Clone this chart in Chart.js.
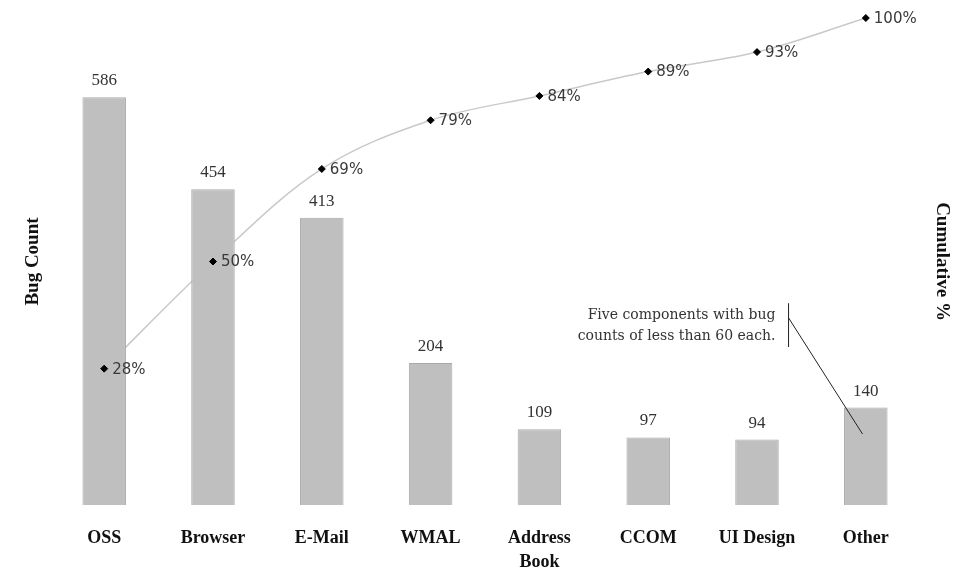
<!DOCTYPE html>
<html>
<head>
<meta charset="utf-8">
<script src="https://cdn.jsdelivr.net/npm/chart.js@4/dist/chart.umd.min.js"></script>
<style>
  html, body { margin: 0; padding: 0; background: #fff; }
  #wrap { width: 973px; height: 572px; position: relative; }
</style>
</head>
<body>
<div id="wrap"><canvas id="pareto"></canvas></div>
<script>
const components = [['OSS'], ['Browser'], ['E-Mail'], ['WMAL'], ['Address', 'Book'], ['CCOM'], ['UI Design'], ['Other']];
const bugCounts = [586, 454, 413, 204, 109, 97, 94, 140];
const cumulativePct = [28, 50, 69, 79, 84, 89, 93, 100];
const noteLines = ['Five components with bug', 'counts of less than 60 each.'];

// where the callout sits, in scale units (category index / bug count)
const note = { textX: 6.17, barX: 6.29, barTop: 290, barBottom: 227, fromY: 269, toX: 6.97, toY: 102 };

const labelPlugin = {
  id: 'labels',
  afterDatasetsDraw(chart) {
    const ctx = chart.ctx;
    const x = chart.scales.x, y = chart.scales.y;
    ctx.save();

    // bar values
    ctx.font = '17px "Liberation Serif", serif';
    ctx.fillStyle = '#333';
    ctx.textAlign = 'center';
    ctx.textBaseline = 'bottom';
    chart.getDatasetMeta(1).data.forEach((bar, i) => {
      ctx.fillText(bugCounts[i], bar.x, bar.y - 8);
    });

    // cumulative percentages
    ctx.font = '15px "DejaVu Sans", sans-serif';
    ctx.fillStyle = '#3a3a3a';
    ctx.textAlign = 'left';
    ctx.textBaseline = 'middle';
    chart.getDatasetMeta(2).data.forEach((pt, i) => {
      ctx.fillText(cumulativePct[i] + '%', pt.x + 8, pt.y + 1);
    });

    // callout
    ctx.font = '14px "DejaVu Serif", serif';
    ctx.fillStyle = '#333';
    ctx.textAlign = 'right';
    const tx = x.getPixelForValue(note.textX);
    const mid = y.getPixelForValue((note.barTop + note.barBottom) / 2);
    ctx.fillText(noteLines[0], tx, mid - 10);
    ctx.fillText(noteLines[1], tx, mid + 11);
    ctx.strokeStyle = '#222';
    ctx.lineWidth = 1;
    const bx = x.getPixelForValue(note.barX);
    ctx.beginPath();
    ctx.moveTo(bx, y.getPixelForValue(note.barTop));
    ctx.lineTo(bx, y.getPixelForValue(note.barBottom));
    ctx.moveTo(bx, y.getPixelForValue(note.fromY));
    ctx.lineTo(x.getPixelForValue(note.toX), y.getPixelForValue(note.toY));
    ctx.stroke();
    ctx.restore();
  }
};

new Chart(document.getElementById('pareto'), {
  data: {
    labels: components,
    datasets: [
      {
        type: 'line',
        data: cumulativePct,
        yAxisID: 'y2',
        borderColor: '#c9c9c9',
        borderWidth: 1.5,
        tension: 0.35,
        pointRadius: 0,
        order: 3
      },
      {
        type: 'bar',
        data: bugCounts,
        yAxisID: 'y',
        backgroundColor: '#bfbfbf',
        borderColor: '#a9a9a9',
        borderWidth: 1,
        barPercentage: 0.4,
        categoryPercentage: 1,
        order: 2
      },
      {
        type: 'line',
        data: cumulativePct,
        yAxisID: 'y2',
        showLine: false,
        pointStyle: 'rectRot',
        pointRadius: 3.5,
        pointBackgroundColor: '#000',
        pointBorderColor: '#000',
        clip: false,
        order: 1
      }
    ]
  },
  options: {
    responsive: true,
    maintainAspectRatio: false,
    animation: false,
    layout: { padding: { left: 18, right: 16, top: 18, bottom: 0 } },
    plugins: { legend: { display: false }, tooltip: { enabled: false } },
    scales: {
      x: {
        grid: { display: false, drawTicks: false },
        border: { display: false },
        afterFit(scale) { scale.height = 67; },
        ticks: {
          color: '#111',
          padding: 22,
          maxRotation: 0,
          autoSkip: false,
          font: { family: '"Liberation Serif", serif', size: 18, weight: 'bold', lineHeight: 1.3 }
        }
      },
      y: {
        position: 'left',
        min: 0,
        max: 700,
        grid: { display: false, drawTicks: false },
        border: { display: false },
        ticks: { display: false },
        title: {
          display: true,
          text: 'Bug Count',
          color: '#111',
          padding: { top: 4, bottom: 5 },
          font: { family: '"Liberation Serif", serif', size: 19, weight: 'bold' }
        }
      },
      y2: {
        position: 'right',
        min: 0,
        max: 100,
        grid: { display: false, drawTicks: false },
        border: { display: false },
        ticks: { display: false },
        title: {
          display: true,
          text: 'Cumulative %',
          color: '#111',
          padding: { top: 4, bottom: 10 },
          font: { family: '"Liberation Serif", serif', size: 19, weight: 'bold' }
        }
      }
    }
  },
  plugins: [labelPlugin]
});
</script>
</body>
</html>
